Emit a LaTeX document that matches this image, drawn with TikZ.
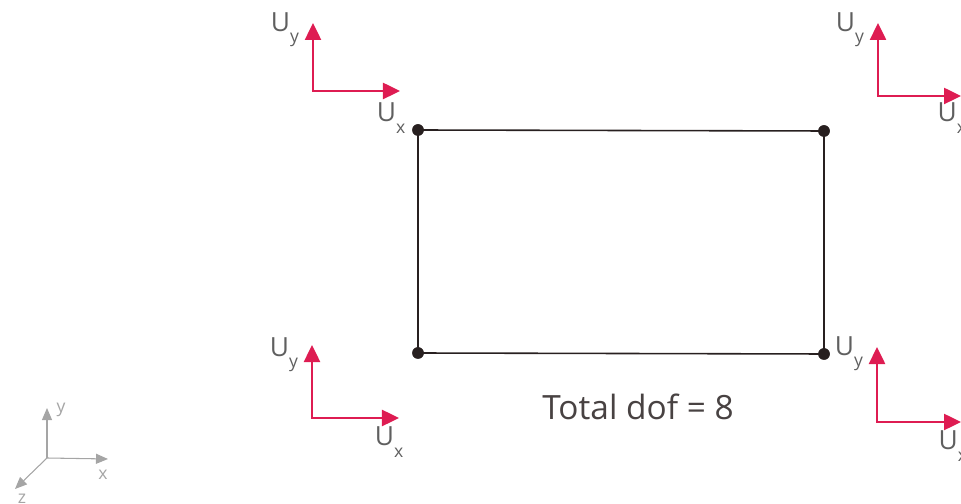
\documentclass[tikz,border=0pt]{standalone}
\usepackage{fontspec}
\setmainfont{Open Sans}
\usepackage{xcolor}
\usetikzlibrary{arrows.meta,positioning}
\definecolor{dfRed}  {RGB}{222, 28, 82}
\definecolor{dfInk}  {RGB}{ 40, 32, 32}
\definecolor{dfGrey} {RGB}{ 95, 95, 95}
\definecolor{dfLight}{RGB}{165,165,165}
\newcommand{\Ulab}[1]{U\raisebox{-0.8ex}{\tiny #1}}

\begin{document}
\begin{tikzpicture}[x=0.01cm,y=-0.01cm,
    every node/.style={inner sep=0pt},
    dof/.style={{Triangle[length=1.7mm,width=1.6mm]}-{Triangle[length=1.7mm,width=1.6mm]},
                line width=0.7pt,dfRed},
    ulab/.style={font=\fontsize{7.5}{8}\selectfont,color=dfGrey},
    corner/.style={circle,fill=dfInk,minimum size=1.15mm},
    axis/.style={-{Triangle[length=1.2mm,width=1mm]},line width=0.3pt,dfLight},
    alab/.style={font=\fontsize{5}{6}\selectfont,color=dfLight}
  ]
  \useasboundingbox (0,0) rectangle (961,504);
  % Element
  \node[corner] (n1) at (418,130) {};
  \node[corner] (n2) at (824,131) {};
  \node[corner] (n3) at (824,354) {};
  \node[corner] (n4) at (418,353) {};
  \draw[line width=0.45pt,dfInk] (n1.center) -- (n2.center) -- (n3.center)
    -- (n4.center) -- cycle;
  \node[corner] at (n1) {};
  \node[corner] at (n2) {};
  \node[corner] at (n3) {};
  \node[corner] at (n4) {};
  % Nodal dof, top left
  \coordinate (y1) at (313,23);
  \coordinate (x1) at (400,91);
  \draw[dof] (y1) |- (x1);
  \node[ulab] (uy1) at (285,30) {\Ulab{y}};
  \node[ulab] (ux1) at (391,118) {\Ulab{x}};
  % Nodal dof, top right
  \coordinate (y2) at (878,23);
  \coordinate (x2) at (961,96);
  \draw[dof] (y2) |- (x2);
  \node[ulab] (uy2) at (850,30) {\Ulab{y}};
  \node[ulab,anchor=west] (ux2) at (937,118) {\Ulab{x}};
  % Nodal dof, bottom left
  \coordinate (y3) at (312,345);
  \coordinate (x3) at (399,418);
  \draw[dof] (y3) |- (x3);
  \node[ulab] (uy3) at (284,355) {\Ulab{y}};
  \node[ulab] (ux3) at (389,442) {\Ulab{x}};
  % Nodal dof, bottom right
  \coordinate (y4) at (877,347);
  \coordinate (x4) at (961,422);
  \draw[dof] (y4) |- (x4);
  \node[ulab] (uy4) at (849,354) {\Ulab{y}};
  \node[ulab,anchor=west] (ux4) at (938,446) {\Ulab{x}};
  % Count
  \node[font=\fontsize{9.5}{11}\selectfont,color=dfInk!85] (tot) at (638,407)
    {Total dof = 8};
  % Global axes
  \coordinate (o) at (47,458);
  \coordinate (ay) at (47,408);
  \coordinate (ax) at (108,459);
  \coordinate (az) at (15,489);
  \draw[axis] (o) -- (ay);
  \draw[axis] (o) -- (ax);
  \draw[axis] (o) -- (az);
  \node[alab] (ly) at (61,410) {y};
  \node[alab] (lx) at (103,475) {x};
  \node[alab] (lz) at (22,499) {z};
\end{tikzpicture}
\end{document}
